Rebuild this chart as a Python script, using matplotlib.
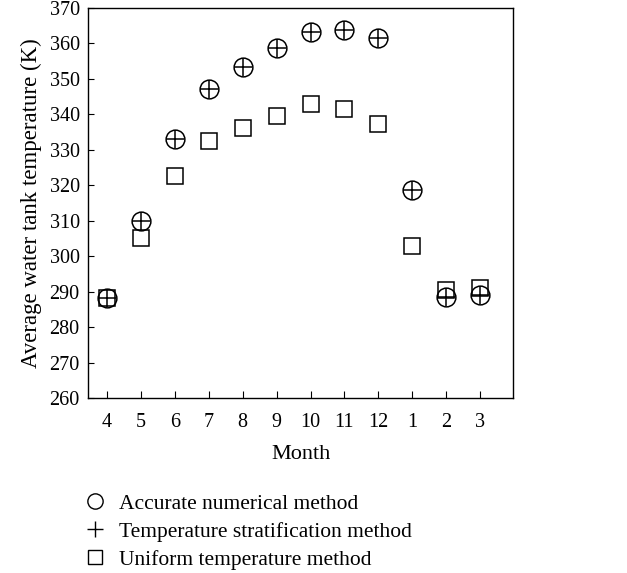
import matplotlib
matplotlib.use("Agg")
import matplotlib.pyplot as plt
from matplotlib.lines import Line2D

plt.rcParams['font.family'] = ['Liberation Serif', 'DejaVu Serif']

months = ['4', '5', '6', '7', '8', '9', '10', '11', '12', '1', '2', '3']
accurate = [288.2, 310.0, 333.0, 347.2, 353.4, 358.6, 363.2, 363.7, 361.5, 318.7, 288.5, 289.0]
stratification = [288.2, 310.0, 333.0, 347.2, 353.4, 358.6, 363.2, 363.7, 361.5, 318.7, 288.5, 289.0]
uniform = [288.2, 305.1, 322.7, 332.6, 336.2, 339.6, 343.0, 341.6, 337.2, 303.0, 290.6, 291.0]

fig = plt.figure(figsize=(6.27, 5.73), dpi=100)
ax = fig.add_axes([88/627, 1 - 398/573, (513-88)/627, (398-8)/573])
x = list(range(len(months)))

ax.plot(x, uniform, linestyle='none', marker='s', markersize=12, markerfacecolor='none',
        markeredgecolor='black', markeredgewidth=1.1)
ax.plot(x, accurate, linestyle='none', marker='o', markersize=13.5, markerfacecolor='none',
        markeredgecolor='black', markeredgewidth=1.1)
ax.plot(x, stratification, linestyle='none', marker='+', markersize=13.5,
        markeredgecolor='black', markeredgewidth=1.1)

ax.set_xlim(-0.56, 11.97)
ax.set_ylim(260, 370)
ax.set_xticks(x)
ax.set_xticklabels(months)
ax.set_yticks(range(260, 371, 10))
ax.tick_params(axis='x', direction='in', length=5, labelsize=14.5, pad=11)
ax.tick_params(axis='y', direction='in', length=4, labelsize=14.5, pad=6)
for s in ax.spines.values():
    s.set_linewidth(1.0)
ax.set_xlabel('Month', fontsize=16, labelpad=9)
ax.set_ylabel('Average water tank temperature (K)', fontsize=16.5, labelpad=5)

handles = [
    Line2D([], [], linestyle='none', marker='o', markersize=11, markerfacecolor='none', markeredgecolor='black', markeredgewidth=1.0),
    Line2D([], [], linestyle='none', marker='+', markersize=11, markeredgecolor='black', markeredgewidth=1.0),
    Line2D([], [], linestyle='none', marker='s', markersize=10, markerfacecolor='none', markeredgecolor='black', markeredgewidth=1.0),
]
labels = ['Accurate numerical method', 'Temperature stratification method', 'Uniform temperature method']
fig.legend(handles, labels, loc='upper left', bbox_to_anchor=(0.117, 0.157), frameon=False,
           fontsize=15.5, handlelength=1.0, handletextpad=0.6, labelspacing=0.36, borderpad=0)

fig.savefig('out.png', dpi=100, facecolor='white')
